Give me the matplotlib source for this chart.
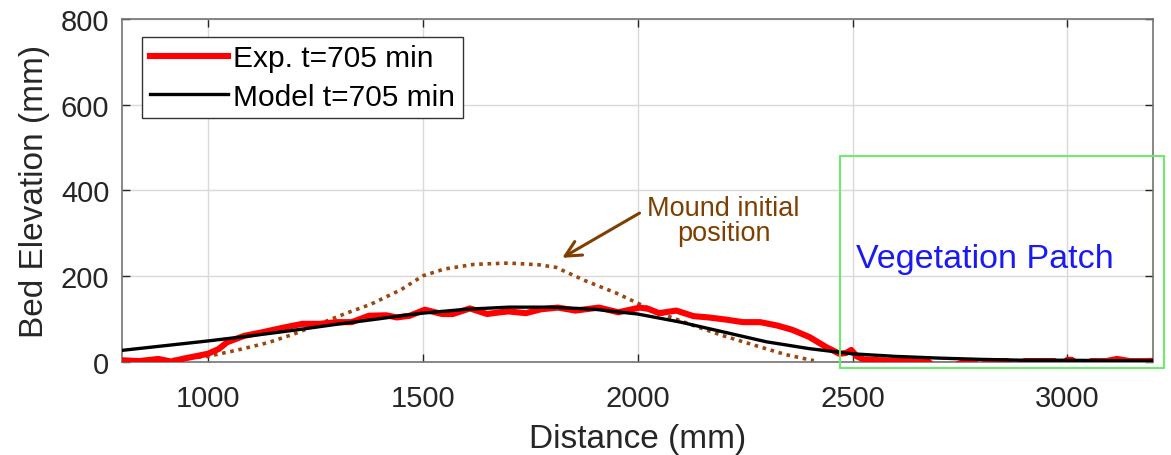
import matplotlib
matplotlib.use("Agg")
import matplotlib.pyplot as plt
from matplotlib.patches import Rectangle

plt.rcParams['font.family'] = ['Liberation Sans', 'DejaVu Sans']

# measured bed profile (experiment), mm
exp_x = [800, 840, 885, 915, 945, 1000, 1025, 1045, 1085, 1125, 1180, 1220, 1260, 1300,
         1335, 1375, 1415, 1440, 1470, 1505, 1545, 1570, 1610, 1650, 1680, 1700, 1740,
         1775, 1815, 1855, 1910, 1955, 2005, 2025, 2050, 2090, 2130, 2165, 2205, 2245,
         2285, 2325, 2360, 2400, 2440, 2470, 2485, 2497, 2510, 2525, 2585, 2625, 2660,
         2675, 2685, 2740, 2765, 2780, 2790, 2800, 2820, 2860, 2870, 2885, 2900, 2920,
         2935, 2970, 2985, 3000, 3010, 3025, 3040, 3055, 3090, 3115, 3145, 3180, 3210]
exp_y = [3, 1, 6, 0, 7, 18, 29, 45, 60, 68, 80, 88, 88, 92,
         92, 107, 108, 103, 107, 121, 111, 111, 124, 111, 115, 117, 113,
         122, 126, 119, 126, 115, 126, 123, 113, 119, 106, 103, 98, 92,
         92, 84, 74, 57, 33, 18, 20, 27, 12, 5, 2, 1, 1,
         1, -8, -8, 1, 1, -8, -8, 1, 1, -8, -8, 1, 1,
         1, 1, -8, 4, 4, -8, -8, 1, 1, 6, 1, 1, 2]

# numerical model, mm
model_x = [800, 900, 1000, 1100, 1200, 1300, 1400, 1450, 1500, 1600, 1700, 1800, 1900, 2000,
           2100, 2200, 2300, 2400, 2500, 2600, 2700, 2800, 2900, 3000, 3100, 3200]
model_y = [26, 37, 48, 60, 73, 87, 100, 107, 113, 122, 127, 127, 122, 111,
           92, 69, 46, 30, 18, 12, 8, 5, 3, 3, 2, 2]

# initial mound shape, mm
mound_x = [880, 940, 1000, 1070, 1140, 1200, 1260, 1320, 1380, 1450, 1500, 1550, 1620,
           1700, 1770, 1810, 1880, 1950, 2005, 2060, 2130, 2200, 2285, 2345, 2410]
mound_y = [2, 6, 12, 27, 44, 64, 88, 112, 134, 168, 200, 216, 227,
           230, 226, 220, 188, 160, 134, 110, 84, 60, 34, 16, 2]

x_ticks = [1000, 1500, 2000, 2500, 3000]
y_ticks = [0, 200, 400, 600, 800]

axis_grey = (0.15, 0.15, 0.15)
brown = '#7f3f00'


def create_plot():
	fig = plt.figure(figsize=(11.71, 4.56), dpi=100)
	ax = fig.add_axes([0.104, 0.205, 0.881, 0.751])

	ax.plot(exp_x, exp_y, color='red', lw=4.4, label='Exp. t=705 min', zorder=3)
	ax.plot(model_x, model_y, color='black', lw=2.4, label='Model t=705 min', zorder=4)
	ax.plot(mound_x, mound_y, color='#9a4712', lw=2.6, linestyle=(0, (1, 1.3)), zorder=2)

	ax.set_xlim(800, 3200)
	ax.set_ylim(0, 800)
	ax.set_xticks(x_ticks)
	ax.set_yticks(y_ticks)
	ax.grid(True, color=(0.85, 0.85, 0.85), lw=1)
	ax.set_axisbelow(True)
	ax.tick_params(direction='in', length=6, width=1, colors=axis_grey,
				   labelsize=21, top=True, right=True)
	ax.tick_params(axis='x', pad=16)
	ax.tick_params(axis='y', pad=9)
	for s in ax.spines.values():
		s.set_color((0.45, 0.45, 0.45))
		s.set_linewidth(1.2)

	ax.set_xlabel('Distance (mm)', fontsize=24, color=axis_grey, labelpad=8)
	ax.set_ylabel('Bed Elevation (mm)', fontsize=24, color=axis_grey, labelpad=8)

	# vegetated section of the flume
	patch = Rectangle((2470, -15), 755, 495, fill=False, edgecolor='#66ee66',
					  lw=1.4, clip_on=False, zorder=5)
	ax.add_patch(patch)
	ax.text(2809, 220, 'Vegetation Patch', color=(0.1, 0.1, 0.95), fontsize=24.5,
			ha='center', va='baseline')

	ax.annotate('', xy=(1819, 239), xytext=(2010, 350),
				arrowprops=dict(arrowstyle='->', color=brown, lw=2.2, mutation_scale=28))
	ax.text(2200, 329, 'Mound initial\nposition', color=brown, fontsize=19.5,
			ha='center', va='center', linespacing=0.95)

	leg = ax.legend(loc='upper left', bbox_to_anchor=(0.02, 0.948), fontsize=21.5,
					frameon=True, fancybox=False, handlelength=2.6, handletextpad=0.2,
					borderpad=0.25, labelspacing=0.35, borderaxespad=0)
	leg.get_frame().set_edgecolor((0.2, 0.2, 0.2))
	leg.get_frame().set_linewidth(1)
	leg.get_frame().set_alpha(1)

	fig.savefig('out.png', dpi=100)


if __name__ == '__main__':
	create_plot()
